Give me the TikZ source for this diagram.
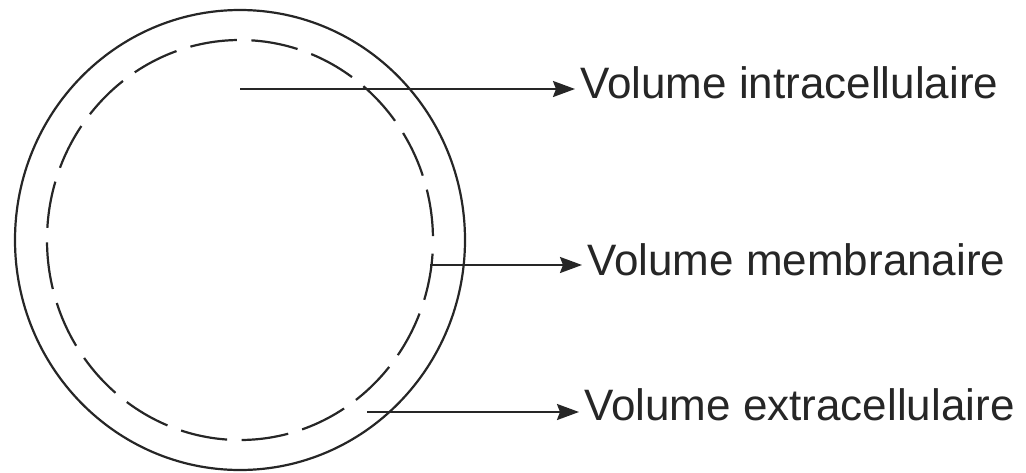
\documentclass[tikz,border=0pt]{standalone}
\usepackage{fontspec}
\setmainfont{Liberation Sans}
\usetikzlibrary{positioning,arrows.meta}

\begin{document}
\begin{tikzpicture}[
  x=1pt, y=-1pt,
  wall/.style={draw=black!85, line width=2.2pt},
  membrane/.style={draw=black!85, line width=2.2pt, dash pattern=on 47pt off 14.6pt, dash phase=48pt},
  volname/.style={anchor=base west, inner xsep=5pt, inner ysep=0pt, text=black!85, font=\fontsize{44}{48}\selectfont},
  pointer/.style={-{Stealth[length=22pt,width=16pt,inset=3pt]}, draw=black!85, line width=2.2pt}
]
\useasboundingbox (0,0) rectangle (1026,472);
% cell
\draw[wall] (240,240) ellipse [x radius=225, y radius=230];
\draw[membrane] (240,240) ellipse [x radius=193, y radius=200];
% start points of the pointers
\coordinate (intraFrom) at (240,89);
\coordinate (membFrom) at (430,265);
\coordinate (extraFrom) at (367,412);
% labels
\node[volname] (intra) at (575,98) {Volume intracellulaire};
\node[volname] (memb) at (582,275) {Volume membranaire};
\node[volname] (extra) at (579,420) {Volume extracellulaire};
\draw[pointer] (intraFrom) -- (intraFrom -| intra.west);
\draw[pointer] (membFrom) -- (membFrom -| memb.west);
\draw[pointer] (extraFrom) -- (extraFrom -| extra.west);
\end{tikzpicture}
\end{document}
